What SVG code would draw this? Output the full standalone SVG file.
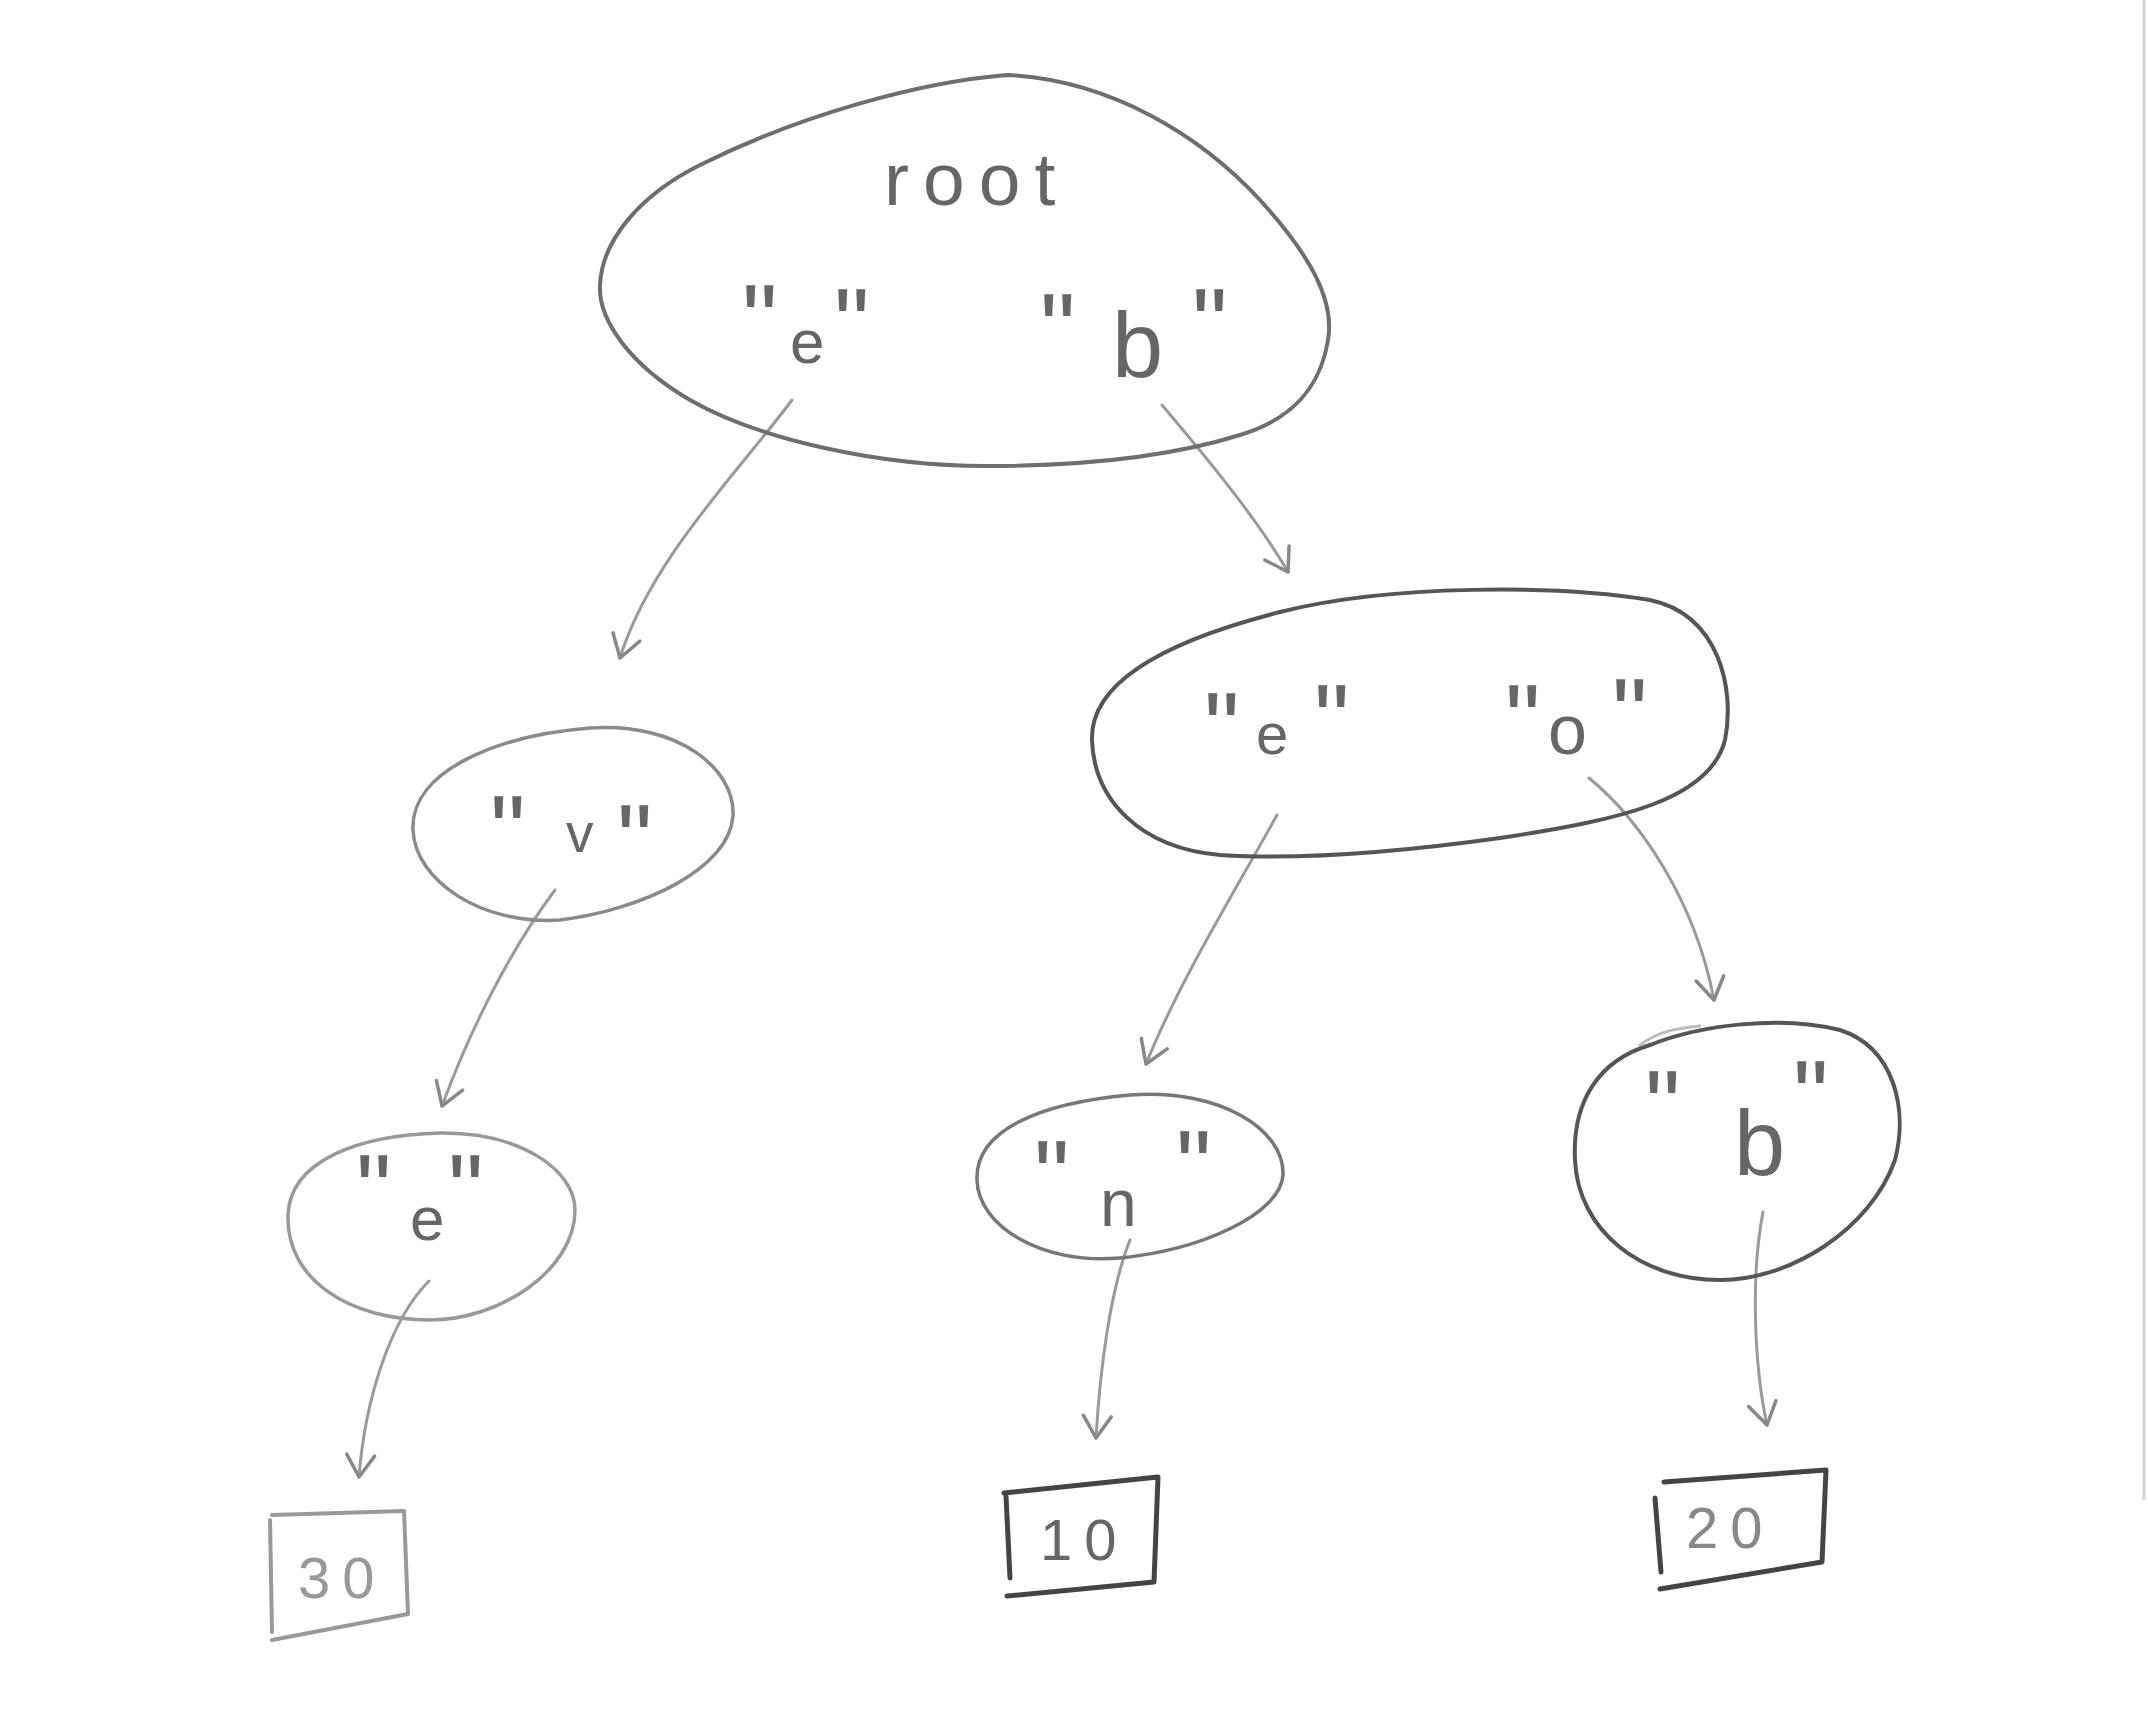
<svg xmlns="http://www.w3.org/2000/svg" width="2148" height="1728" viewBox="0 0 2148 1728">
<style>
.node{fill:none;stroke-linecap:round;stroke-linejoin:round}
.lbl{font-family:"Liberation Sans","DejaVu Sans",sans-serif;fill:#666}
.q{font-size:100px}
.conn{fill:none;stroke:#9a9a9a;stroke-width:3;stroke-linecap:round}
.box{fill:none;stroke-linejoin:round;stroke-linecap:round}
.num{font-family:"Liberation Sans","DejaVu Sans",sans-serif;font-size:58px;letter-spacing:12px}
</style>
<defs>
<marker id="arr" markerUnits="userSpaceOnUse" viewBox="-30 -20 34 40" refX="0" refY="0" markerWidth="34" markerHeight="40" orient="auto">
<path d="M -22 -14 L 0 0 L -22 14" fill="none" stroke="#888" stroke-width="3.5" stroke-linecap="round" stroke-linejoin="round"/>
</marker>
</defs>
<rect width="2148" height="1728" fill="#ffffff"/>
<line x1="2144" y1="0" x2="2144" y2="1500" stroke="#d4d4d4" stroke-width="3"/>

<g id="connectors">
<path class="conn" marker-end="url(#arr)" d="M 792 400 C 740 470, 650 560, 620 658"/>
<path class="conn" marker-end="url(#arr)" d="M 1162 405 C 1200 450, 1255 515, 1288 572"/>
<path class="conn" marker-end="url(#arr)" d="M 1277 815 C 1230 900, 1180 980, 1146 1064"/>
<path class="conn" marker-end="url(#arr)" d="M 1589 778 C 1640 820, 1695 900, 1714 1000"/>
<path class="conn" marker-end="url(#arr)" d="M 555 890 C 510 950, 470 1030, 442 1106"/>
<path class="conn" marker-end="url(#arr)" d="M 429 1281 C 390 1320, 365 1400, 359 1477"/>
<path class="conn" marker-end="url(#arr)" d="M 1130 1240 C 1110 1290, 1100 1370, 1096 1438"/>
<path class="conn" marker-end="url(#arr)" d="M 1763 1212 C 1750 1280, 1755 1370, 1767 1425"/>
</g>

<g id="root">
<path class="node" stroke="#6e6e6e" stroke-width="4" d="M 1007 75 C 1110 80, 1200 135, 1260 200 C 1310 255, 1335 300, 1328 340 C 1320 390, 1290 420, 1240 435 C 1160 460, 1070 466, 986 466 C 880 466, 760 440, 690 400 C 630 365, 598 320, 600 285 C 602 240, 640 195, 700 165 C 800 115, 920 82, 1007 75 Z"/>
<text class="lbl" x="884" y="205" font-size="75" letter-spacing="14">root</text>
<text class="lbl"><tspan class="q" x="742" y="354">"</tspan><tspan x="790" y="363" font-size="62">e</tspan><tspan class="q" x="834" y="358">"</tspan></text>
<text class="lbl"><tspan class="q" x="1040" y="363">"</tspan><tspan x="1112" y="377" font-size="92">b</tspan><tspan class="q" x="1192" y="358">"</tspan></text>
</g>

<g id="node-eo">
<path class="node" stroke="#555" stroke-width="4" d="M 1092 740 C 1090 680, 1170 640, 1280 612 C 1390 584, 1560 585, 1650 600 C 1720 615, 1735 690, 1725 740 C 1710 800, 1620 820, 1500 838 C 1400 852, 1300 860, 1220 855 C 1140 848, 1094 800, 1092 740 Z"/>
<text class="lbl" fill="#444"><tspan class="q" x="1204" y="762">"</tspan><tspan x="1256" y="754" font-size="58">e</tspan><tspan class="q" x="1314" y="754">"</tspan></text>
<text class="lbl" fill="#444"><tspan class="q" x="1505" y="754">"</tspan><tspan x="1548" y="754" font-size="70">o</tspan><tspan class="q" x="1612" y="748">"</tspan></text>
</g>

<g id="node-v">
<path class="node" stroke="#8a8a8a" stroke-width="3.5" d="M 413 830 C 410 770, 500 735, 590 728 C 680 722, 735 770, 733 815 C 730 870, 640 910, 560 920 C 480 925, 415 880, 413 830 Z"/>
<text class="lbl" fill="#777"><tspan class="q" x="490" y="865">"</tspan><tspan x="566" y="852" font-size="55">v</tspan><tspan class="q" x="617" y="874">"</tspan></text>
</g>

<g id="node-e">
<path class="node" stroke="#999" stroke-width="3.5" d="M 288 1215 C 290 1160, 360 1135, 440 1133 C 520 1132, 575 1170, 575 1210 C 575 1270, 500 1320, 430 1320 C 350 1320, 286 1280, 288 1215 Z"/>
<text class="lbl" fill="#999"><tspan class="q" x="356" y="1224">"</tspan><tspan x="410" y="1240" font-size="62">e</tspan><tspan class="q" x="448" y="1224">"</tspan></text>
</g>

<g id="node-n">
<path class="node" stroke="#777" stroke-width="3.5" d="M 977 1180 C 975 1130, 1040 1103, 1130 1095 C 1220 1088, 1285 1130, 1283 1175 C 1280 1215, 1200 1250, 1120 1258 C 1040 1265, 978 1225, 977 1180 Z"/>
<text class="lbl" fill="#666"><tspan class="q" x="1034" y="1210">"</tspan><tspan x="1100" y="1226" font-size="66">n</tspan><tspan class="q" x="1176" y="1200">"</tspan></text>
</g>

<g id="node-b">
<path class="node" stroke="#555" stroke-width="4" d="M 1650 1045 C 1700 1025, 1780 1015, 1840 1030 C 1895 1048, 1908 1110, 1895 1160 C 1870 1230, 1790 1280, 1720 1280 C 1640 1280, 1578 1230, 1575 1160 C 1572 1100, 1600 1060, 1650 1045 Z"/>
<path class="node" stroke="#bbb" stroke-width="3" d="M 1640 1045 C 1660 1030, 1680 1028, 1700 1026"/>
<text class="lbl" fill="#444"><tspan class="q" x="1645" y="1140">"</tspan><tspan x="1734" y="1175" font-size="92">b</tspan><tspan class="q" x="1793" y="1130">"</tspan></text>
</g>

<g id="leaf-30">
<path class="box" stroke="#999" stroke-width="4" d="M 272 1515 L 404 1511 L 408 1614 L 272 1640 M 270 1520 L 272 1632"/>
<text class="num" x="298" y="1598" fill="#999">30</text>
</g>

<g id="leaf-10">
<path class="box" stroke="#444" stroke-width="5" d="M 1004 1493 L 1158 1477 L 1154 1582 L 1007 1596 M 1006 1496 L 1010 1578"/>
<text class="num" x="1040" y="1560" fill="#666">10</text>
</g>

<g id="leaf-20">
<path class="box" stroke="#444" stroke-width="5" d="M 1664 1482 L 1826 1470 L 1822 1562 L 1660 1589 M 1655 1498 L 1661 1572"/>
<text class="num" x="1686" y="1548" fill="#888">20</text>
</g>
</svg>
